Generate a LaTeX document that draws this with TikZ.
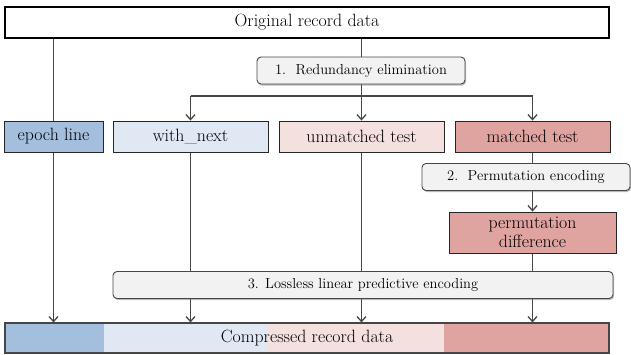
\documentclass[tikz,border=0pt]{standalone}
\usetikzlibrary{arrows.meta,shadows,backgrounds}
\definecolor{cEpoch}{RGB}{163,191,221}
\definecolor{cNext}{RGB}{224,232,243}
\definecolor{cUnm}{RGB}{244,224,223}
\definecolor{cMat}{RGB}{224,164,160}
\definecolor{cLine}{RGB}{70,70,70}
\definecolor{cStep}{RGB}{242,242,242}
\tikzset{
  databox/.style={draw=black!85, line width=0.9pt, inner sep=0pt, font=\fontsize{17.8}{19}\selectfont},
  stepbox/.style={draw=cLine, line width=0.9pt, fill=cStep, rounded corners=4pt, inner sep=0pt,
    font=\fontsize{14.5}{16}\selectfont,
    drop shadow={shadow xshift=1pt, shadow yshift=-1.5pt, opacity=0.45, fill=black!60}},
  conn/.style={draw=cLine, line width=1.25pt},
  arr/.style={conn, -{Straight Barb[length=5pt,width=9pt,line width=1.3pt]}},
}
\begin{document}
\begin{tikzpicture}[x=1pt,y=-1pt]
\useasboundingbox (0,0) rectangle (631,354);
% top
\node[databox, draw=black, line width=1.1pt, minimum width=604pt, minimum height=31pt] (orig) at (307,22.5) {Original record data};
% step 1
\node[stepbox, minimum width=208pt, minimum height=27pt] (s1) at (361,70.5) {1.\ \ Redundancy elimination};
% category boxes
\node[databox, fill=cEpoch, minimum width=99pt, minimum height=31pt] (ep) at (53.5,136.5) {epoch line};
\node[databox, fill=cNext, minimum width=155pt, minimum height=31pt] (wn) at (190.5,136.5) {with\_next};
\node[databox, fill=cUnm, minimum width=165pt, minimum height=31pt] (um) at (361.5,136.5) {unmatched test};
\node[databox, fill=cMat, minimum width=155pt, minimum height=31pt] (mt) at (532.5,136.5) {matched test};
% step 2
\node[stepbox, minimum width=208pt, minimum height=27pt] (s2) at (526,177) {2.\ \ Permutation encoding};
% permutation difference
\node[databox, fill=cMat, minimum width=167pt, minimum height=41pt, align=center] (pd) at (532.5,232.5) {permutation\\difference};
% step 3
\node[stepbox, minimum width=500pt, minimum height=27pt] (s3) at (363,285) {3. Lossless linear predictive encoding};
% compressed
\fill[cEpoch] (5,323) rectangle (104,353);
\fill[cNext] (104,323) rectangle (267,353);
\fill[cUnm] (267,323) rectangle (444,353);
\fill[cMat] (444,323) rectangle (609,353);
\node[databox, draw=cLine, line width=1.1pt, minimum width=604pt, minimum height=30pt] (comp) at (307,338) {Compressed record data};
% connectors
\coordinate (hl) at (190.5,96);
\coordinate (hr) at (532.5,96);
\begin{scope}[on background layer]
\draw[arr] (orig.south -| ep) -- (comp.north -| ep);
\draw[conn] (orig.south -| um) -- (s1.north -| um);
\draw[arr] (s1.south -| um) -- (um.north);
\draw[conn] (hl) -- (hr);
\draw[arr] (hl) -- (wn.north);
\draw[arr] (hr) -- (mt.north);
\draw[conn] (wn.south) -- (s3.north -| wn);
\draw[conn] (um.south) -- (s3.north -| um);
\draw[conn] (mt.south) -- (s2.north -| mt);
\draw[arr] (s2.south -| mt) -- (pd.north -| mt);
\draw[conn] (pd.south -| mt) -- (s3.north -| mt);
\draw[arr] (s3.south -| wn) -- (comp.north -| wn);
\draw[arr] (s3.south -| um) -- (comp.north -| um);
\draw[arr] (s3.south -| mt) -- (comp.north -| mt);
\end{scope}
\end{tikzpicture}
\end{document}
